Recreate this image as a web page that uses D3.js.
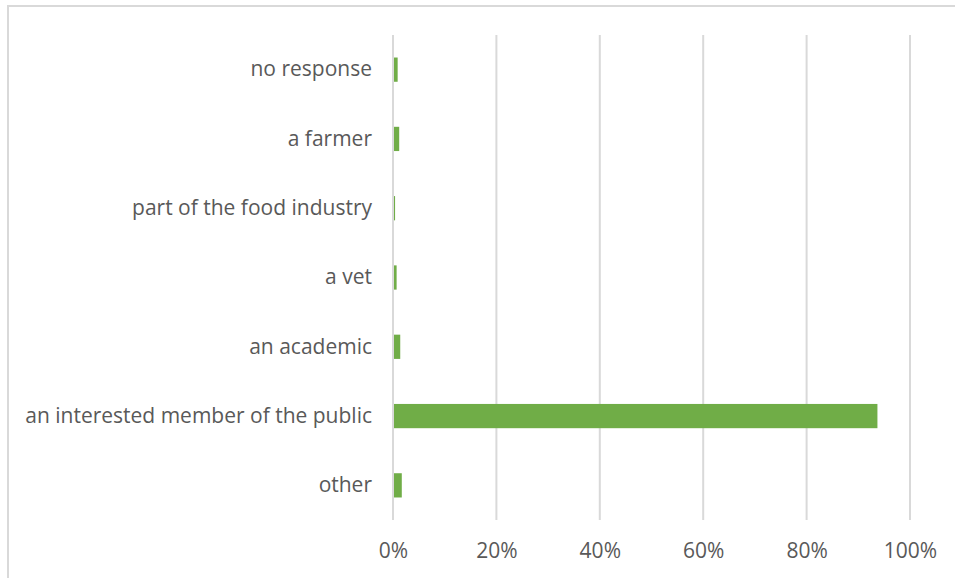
<!DOCTYPE html>
<html>
<head>
<meta charset="utf-8">
<script src="https://cdn.jsdelivr.net/npm/d3@7"></script>
<style>
  html, body { margin: 0; padding: 0; background: #fff; }
  svg { display: block; }
  text { font-family: "Open Sans", sans-serif; fill: #595959; }
</style>
</head>
<body>
<svg id="chart" width="955" height="578"></svg>
<script>
// Respondent type, listed top to bottom
const categories = [
  "no response",
  "a farmer",
  "part of the food industry",
  "a vet",
  "an academic",
  "an interested member of the public",
  "other"
];
// Share of respondents (%)
const shares = [0.9, 1.2, 0.4, 0.7, 1.4, 93.7, 1.7];
// Value axis ticks (%)
const ticks = [0, 20, 40, 60, 80, 100];

const W = 955, H = 578;
const margin = { top: 35, right: 45, bottom: 58, left: 393 };
const FONT = "'Open Sans', sans-serif";
const svg = d3.select("#chart");

// chart frame (only top and left edges fall inside the view)
svg.append("rect")
  .attr("x", 8).attr("y", 6)
  .attr("width", W + 20).attr("height", H + 20)
  .attr("fill", "#fff")
  .attr("stroke", "#d9d9d9").attr("stroke-width", 2);

const x = d3.scaleLinear().domain([0, 100]).range([margin.left, W - margin.right]);
const y = d3.scaleBand().domain(categories)
  .range([margin.top, H - margin.bottom])
  .paddingInner(0.65).paddingOuter(0.325);

// vertical gridlines
svg.append("g").selectAll("line")
  .data(ticks.filter(t => t > 0))
  .join("line")
  .attr("x1", d => x(d)).attr("x2", d => x(d))
  .attr("y1", margin.top).attr("y2", H - margin.bottom)
  .attr("stroke", "#d9d9d9").attr("stroke-width", 2);

// bars
svg.append("g").selectAll("rect")
  .data(categories.map((c, i) => ({ c, v: shares[i] })))
  .join("rect")
  .attr("x", x(0))
  .attr("y", d => y(d.c))
  .attr("width", d => x(d.v) - x(0))
  .attr("height", y.bandwidth())
  .attr("fill", "#70ad47");

// category axis line
svg.append("line")
  .attr("x1", x(0)).attr("x2", x(0))
  .attr("y1", margin.top).attr("y2", H - margin.bottom)
  .attr("stroke", "#d9d9d9").attr("stroke-width", 2);

// value axis labels
const xAxis = d3.axisBottom(x).tickValues(ticks).tickFormat(d => d + "%").tickSize(0).tickPadding(0);
const gx = svg.append("g")
  .attr("transform", `translate(0,${H - margin.bottom})`)
  .call(xAxis);
gx.select(".domain").remove();
gx.selectAll("text")
  .attr("y", 38).attr("dy", "0")
  .style("font-size", "21px")
  .style("font-family", FONT)
  .attr("fill", "#595959");

// category labels
const yAxis = d3.axisLeft(y).tickSize(0).tickPadding(21);
const gy = svg.append("g")
  .attr("transform", `translate(${x(0)},0)`)
  .call(yAxis);
gy.select(".domain").remove();
gy.selectAll("text")
  .style("font-size", "21px")
  .style("font-family", FONT)
  .attr("fill", "#595959");
</script>
</body>
</html>
